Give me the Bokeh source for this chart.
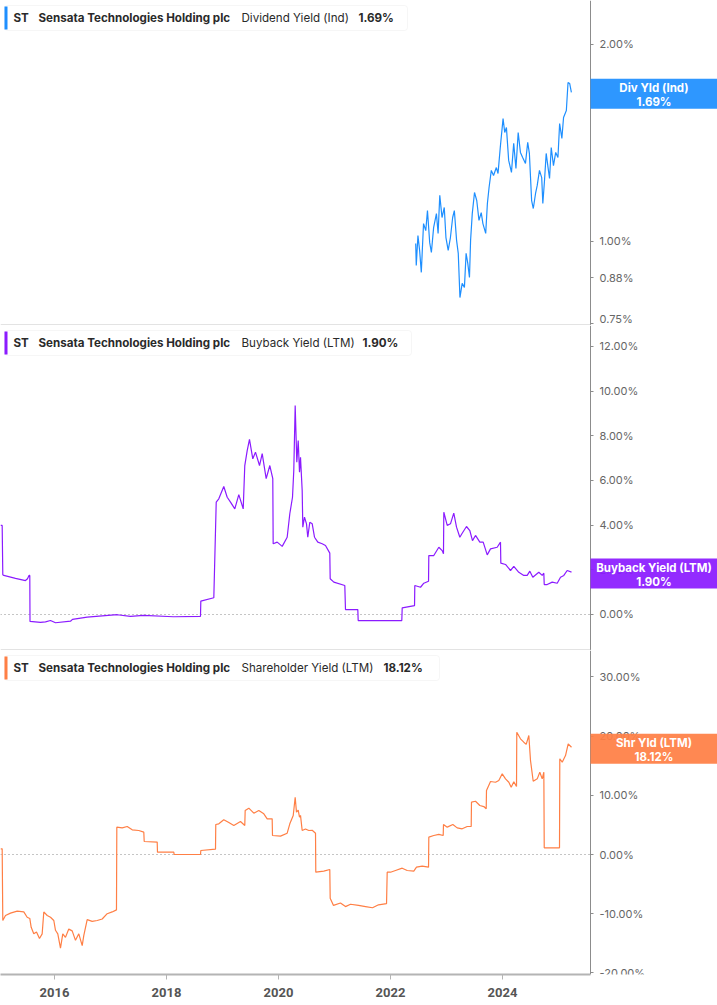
import numpy as np
from bokeh.plotting import figure
from bokeh.layouts import column
from bokeh.models import (Range1d, FixedTicker, PrintfTickFormatter,
                          BoxAnnotation, Label)
from bokeh.embed import file_html
from bokeh.resources import INLINE

# ---------------- data ----------------
company = "Sensata Technologies Holding plc"
ticker = "ST"

div_t = [2022.45, 2022.46, 2022.49, 2022.52, 2022.55, 2022.59, 2022.63, 2022.66, 2022.70, 2022.73,
         2022.77, 2022.82, 2022.85, 2022.88, 2022.92, 2022.96, 2022.99, 2023.03, 2023.07, 2023.11,
         2023.14, 2023.18, 2023.21, 2023.24, 2023.28, 2023.32, 2023.35, 2023.38, 2023.41, 2023.43,
         2023.46, 2023.50, 2023.54, 2023.58, 2023.62, 2023.65, 2023.70, 2023.73, 2023.76, 2023.80,
         2023.84, 2023.89, 2023.92, 2023.96, 2024.01, 2024.04, 2024.07, 2024.11, 2024.16, 2024.20,
         2024.24, 2024.28, 2024.32, 2024.36, 2024.41, 2024.45, 2024.48, 2024.52, 2024.55, 2024.59,
         2024.62, 2024.66, 2024.70, 2024.72, 2024.75, 2024.78, 2024.82, 2024.84, 2024.87, 2024.91,
         2024.95, 2024.99, 2025.02, 2025.06, 2025.09, 2025.14, 2025.17, 2025.20, 2025.23]
div_v = [0.993, 0.919, 1.021, 0.969, 0.897, 1.065, 1.039, 1.115, 0.996, 0.962,
         1.050, 1.103, 1.029, 1.176, 1.088, 1.127, 1.014, 0.969, 1.014, 1.088,
         1.115, 1.004, 0.959, 0.821, 0.863, 0.851, 0.959, 0.926, 0.881, 1.004,
         1.103, 1.188, 1.155, 1.077, 1.107, 1.065, 1.029, 1.143, 1.209, 1.284,
         1.261, 1.297, 1.270, 1.392, 1.541, 1.467, 1.493, 1.330, 1.275, 1.412,
         1.293, 1.467, 1.368, 1.344, 1.316, 1.417, 1.363, 1.155, 1.123, 1.184,
         1.218, 1.284, 1.252, 1.143, 1.239, 1.363, 1.284, 1.248, 1.392, 1.306,
         1.368, 1.344, 1.514, 1.437, 1.547, 1.585, 1.749, 1.743, 1.69]

bb_t = [2015.036, 2015.066, 2015.077, 2015.095, 2015.304, 2015.482, 2015.518, 2015.545, 2015.559, 2015.563,
        2015.750, 2015.839, 2015.929, 2016.018, 2016.286, 2016.321, 2016.584, 2017.120, 2017.357, 2017.589,
        2018.125, 2018.607, 2018.613, 2018.845, 2018.888, 2018.934, 2019.023, 2019.084, 2019.143, 2019.220,
        2019.291, 2019.370, 2019.398, 2019.441, 2019.482, 2019.541, 2019.589, 2019.661, 2019.709, 2019.780,
        2019.845, 2019.898, 2019.905, 2019.977, 2020.066, 2020.155, 2020.202, 2020.250, 2020.273, 2020.298,
        2020.316, 2020.327, 2020.352, 2020.375, 2020.393, 2020.423, 2020.434, 2020.464, 2020.500, 2020.523,
        2020.559, 2020.602, 2020.643, 2020.702, 2020.780, 2020.839, 2020.916, 2020.923, 2020.988, 2021.184,
        2021.196, 2021.416, 2021.423, 2022.202, 2022.209, 2022.429, 2022.434, 2022.536, 2022.595, 2022.679,
        2022.684, 2022.773, 2022.863, 2022.923, 2022.946, 2022.952, 2023.013, 2023.071, 2023.130, 2023.179,
        2023.238, 2023.280, 2023.357, 2023.416, 2023.464, 2023.518, 2023.595, 2023.655, 2023.727, 2023.786,
        2023.905, 2023.964, 2023.970, 2024.054, 2024.143, 2024.202, 2024.291, 2024.380, 2024.441, 2024.488,
        2024.541, 2024.648, 2024.709, 2024.738, 2024.745, 2024.798, 2024.888, 2024.977, 2025.036, 2025.095,
        2025.155, 2025.232]
bb_v = [3.99, 3.99, 1.78, 1.75, 1.62, 1.52, 1.60, 1.75, 1.75, -0.31,
        -0.35, -0.33, -0.27, -0.37, -0.30, -0.22, -0.12, -0.01, -0.08, -0.04,
        -0.10, -0.08, 0.60, 0.75, 5.03, 5.18, 5.73, 5.25, 5.03, 4.73,
        5.37, 4.73, 6.67, 7.34, 7.84, 6.97, 7.27, 6.67, 7.20, 6.08,
        6.67, 6.08, 3.17, 3.24, 3.05, 3.46, 4.51, 5.25, 6.45, 9.36,
        7.79, 6.82, 7.79, 6.37, 7.04, 5.55, 3.91, 4.36, 4.06, 3.46,
        4.13, 4.06, 3.46, 3.24, 3.17, 3.09, 2.75, 1.60, 1.45, 1.30,
        0.22, 0.22, -0.27, -0.27, 0.30, 0.40, 1.30, 1.22, 1.40, 1.49,
        2.64, 2.64, 3.01, 2.86, 2.72, 4.58, 3.99, 4.06, 4.54, 3.91,
        3.46, 3.64, 3.94, 3.76, 3.31, 3.54, 3.24, 3.24, 2.67, 2.94,
        3.01, 3.24, 2.30, 2.24, 1.97, 2.15, 1.89, 1.75, 1.75, 1.94,
        1.67, 1.89, 1.75, 1.85, 1.34, 1.34, 1.45, 1.40, 1.67, 1.75,
        1.97, 1.90]

sh_t = [2015.036, 2015.066, 2015.077, 2015.125, 2015.214, 2015.334, 2015.452, 2015.512, 2015.559, 2015.584,
        2015.630, 2015.679, 2015.732, 2015.780, 2015.809, 2015.870, 2015.929, 2015.988, 2016.018, 2016.059,
        2016.107, 2016.148, 2016.196, 2016.255, 2016.316, 2016.375, 2016.434, 2016.495, 2016.523, 2016.584,
        2016.673, 2016.763, 2016.852, 2016.941, 2017.030, 2017.107, 2017.113, 2017.209, 2017.298, 2017.388,
        2017.505, 2017.595, 2017.602, 2017.834, 2017.839, 2018.130, 2018.137, 2018.607, 2018.613, 2018.875,
        2018.880, 2018.934, 2019.023, 2019.113, 2019.202, 2019.321, 2019.398, 2019.405, 2019.470, 2019.559,
        2019.648, 2019.738, 2019.798, 2019.887, 2019.893, 2020.036, 2020.155, 2020.202, 2020.263, 2020.298,
        2020.321, 2020.352, 2020.375, 2020.393, 2020.423, 2020.482, 2020.541, 2020.602, 2020.661, 2020.666,
        2020.809, 2020.916, 2020.923, 2020.982, 2021.107, 2021.196, 2021.286, 2021.429, 2021.554, 2021.679,
        2021.786, 2021.929, 2021.941, 2022.000, 2022.089, 2022.209, 2022.298, 2022.416, 2022.464, 2022.566,
        2022.679, 2022.684, 2022.773, 2022.863, 2022.941, 2022.946, 2023.013, 2023.113, 2023.191, 2023.280,
        2023.370, 2023.441, 2023.446, 2023.518, 2023.595, 2023.666, 2023.709, 2023.714, 2023.786, 2023.875,
        2023.934, 2023.995, 2024.054, 2024.113, 2024.155, 2024.202, 2024.250, 2024.255, 2024.321, 2024.380,
        2024.423, 2024.470, 2024.500, 2024.548, 2024.620, 2024.666, 2024.709, 2024.738, 2024.745, 2025.018,
        2025.023, 2025.066, 2025.125, 2025.173, 2025.232]
sh_v = [0.96, 0.96, -11.15, -10.3, -9.9, -9.57, -9.7, -10.6, -10.8, -12.3,
        -13.4, -13.1, -14.2, -13.4, -9.7, -10.3, -10.6, -11.15, -12.8, -13.4,
        -15.8, -13.4, -14.0, -12.6, -12.9, -14.5, -13.4, -15.4, -13.7, -11.0,
        -11.3, -11.15, -10.9, -10.0, -9.7, -9.35, 4.62, 4.5, 4.73, 4.17,
        4.05, 3.77, 2.2, 2.1, 0.39, 0.39, 0.0, 0.0, 0.68, 0.9,
        5.07, 5.18, 5.86, 5.4, 4.9, 5.57, 4.9, 7.43, 7.83, 6.98,
        7.43, 6.87, 6.03, 6.03, 3.21, 3.1, 3.6, 5.18, 6.59, 9.68,
        7.15, 7.5, 6.3, 6.6, 4.05, 4.3, 4.05, 4.1, 3.6, -2.99,
        -2.8, -2.53, -7.4, -8.6, -8.2, -8.8, -8.4, -8.6, -8.8, -9.0,
        -8.5, -8.3, -2.99, -2.99, -2.7, -2.31, -2.7, -2.8, -2.14, -1.97,
        -2.14, 2.93, 3.21, 3.4, 3.21, 5.07, 4.62, 5.07, 4.5, 4.34,
        4.73, 4.73, 8.84, 9.0, 8.28, 8.1, 7.72, 10.81, 12.33, 12.2,
        12.5, 13.63, 12.78, 12.2, 11.37, 12.3, 11.5, 20.66, 19.54, 18.97,
        18.6, 20.1, 15.88, 12.38, 12.78, 13.9, 12.78, 13.9, 1.13, 1.13,
        16.17, 15.6, 16.72, 18.7, 18.12]

x_ticks = [2016, 2018, 2020, 2022, 2024]
div_ticks = [0.75, 0.88, 1.0, 2.0]
bb_ticks = [0, 2, 4, 6, 8, 10, 12]
sh_ticks = [-20, -10, 0, 10, 20, 30]

panels = [
    dict(metric="Dividend Yield (Ind)", tag="Div Yld (Ind)", last=1.69, color="#1E8FFF",
         t=div_t, v=div_v, ticks=div_ticks, yr=(0.7442, 2.334), log=True,
         height=325, val_x=358, box_w=403),
    dict(metric="Buyback Yield (LTM)", tag="Buyback Yield (LTM)", last=1.90, color="#8B1BFF",
         t=bb_t, v=bb_v, ticks=bb_ticks, yr=(-1.612, 12.94), log=False,
         height=325, val_x=362, box_w=407),
    dict(metric="Shareholder Yield (LTM)", tag="Shr Yld (LTM)", last=18.12, color="#FF7F45",
         t=sh_t, v=sh_v, ticks=sh_ticks, yr=(-20.27, 34.46), log=False,
         height=355, val_x=383, box_w=435),
]

# ---------------- layout ----------------
W = 717
AX_PX = 590          # pixel position of the value axis
XAXIS_H = 31
X0, X1 = 2015.036, 2027.839
XAX = 2025.571       # x value where the value axis sits
xr = Range1d(X0, X1)

FONT = "Inter"
figs = []
for i, cfg in enumerate(panels):
    last_panel = i == len(panels) - 1
    fh = cfg["height"] - (XAXIS_H if last_panel else 0)
    yr = Range1d(*cfg["yr"])
    p = figure(width=W, height=cfg["height"], x_range=xr, y_range=yr,
               y_axis_type="log" if cfg["log"] else "linear",
               y_axis_location="right",
               x_axis_location="below" if last_panel else None,
               output_backend="svg", toolbar_location=None,
               min_border_left=0, min_border_right=0, min_border_top=0,
               min_border_bottom=XAXIS_H if last_panel else 0)
    p.outline_line_color = None
    p.grid.visible = False
    p.background_fill_color = "white"
    p.border_fill_color = "white"

    ya = p.yaxis[0]
    ya.fixed_location = XAX
    ya.ticker = FixedTicker(ticks=cfg["ticks"])
    ya.formatter = PrintfTickFormatter(format="%.2f%%")
    ya.axis_line_color = "#8c8c8c"
    ya.axis_line_width = 1
    ya.major_tick_line_color = "#8c8c8c"
    ya.major_tick_out = 3
    ya.major_tick_in = 0
    ya.minor_tick_line_color = None
    ya.major_label_text_font = FONT
    ya.major_label_text_font_size = "11px"
    ya.major_label_text_color = "#666666"
    ya.major_label_standoff = 6

    if last_panel:
        xa = p.xaxis[0]
        xa.bounds = (X0, XAX)
        xa.ticker = FixedTicker(ticks=x_ticks)
        xa.formatter = PrintfTickFormatter(format="%d")
        xa.axis_line_color = "#b4b4b4"
        xa.axis_line_width = 2
        xa.major_tick_line_color = "#b4b4b4"
        xa.major_tick_out = 5
        xa.major_tick_in = 0
        xa.minor_tick_line_color = None
        xa.major_label_text_font = "Roboto"
        xa.major_label_text_font_style = "bold"
        xa.major_label_text_font_size = "13px"
        xa.major_label_text_color = "#555555"
        xa.major_label_standoff = 8
    else:
        # separator line at the panel bottom
        p.add_layout(BoxAnnotation(left=0, right=AX_PX, bottom=0, top=1,
                                   left_units="screen", right_units="screen",
                                   bottom_units="screen", top_units="screen",
                                   fill_color="#c8c8c8", fill_alpha=1, line_color=None))

    if not cfg["log"]:
        p.segment(x0=[X0], x1=[XAX], y0=[0], y1=[0], line_color="#8a8a8a",
                  line_width=1, line_dash="1 3")

    p.line(cfg["t"], cfg["v"], line_color=cfg["color"], line_width=1.2)

    # header box
    top = fh - 5
    bot = top - 25
    p.add_layout(BoxAnnotation(left=4, right=4 + cfg["box_w"], bottom=bot, top=top,
                               left_units="screen", right_units="screen",
                               bottom_units="screen", top_units="screen",
                               fill_color="white", fill_alpha=1, line_color="#e2e2e2",
                               line_width=1, border_radius=3))
    p.add_layout(BoxAnnotation(left=4, right=7, bottom=bot + 1, top=top - 1,
                               left_units="screen", right_units="screen",
                               bottom_units="screen", top_units="screen",
                               fill_color=cfg["color"], fill_alpha=1, line_color=None))
    cy = (top + bot) / 2
    for x, txt, style in [(13, ticker, "bold"), (38, company, "bold"),
                          (241, cfg["metric"], "normal"),
                          (cfg["val_x"], f"{cfg['last']:.2f}%", "bold")]:
        p.add_layout(Label(x=x, y=cy, x_units="screen", y_units="screen", text=txt,
                           text_font=FONT, text_font_size="11.6px", text_font_style=style,
                           text_color="#2a2a2a", text_baseline="middle", text_align="left"))

    # value tag on the right axis
    y0, y1 = yr.start, yr.end
    if cfg["log"]:
        ys = (np.log(cfg["last"]) - np.log(y0)) / (np.log(y1) - np.log(y0)) * fh
    else:
        ys = (cfg["last"] - y0) / (y1 - y0) * fh
    ys -= 1.5
    p.add_layout(BoxAnnotation(left=AX_PX, right=W, bottom=ys - 15, top=ys + 15,
                               left_units="screen", right_units="screen",
                               bottom_units="screen", top_units="screen",
                               fill_color=cfg["color"], fill_alpha=0.93, line_color=None))
    p.add_layout(Label(x=(AX_PX + W) / 2, y=ys - 1, x_units="screen", y_units="screen",
                       text=f"{cfg['tag']}\n{cfg['last']:.2f}%",
                       text_font=FONT, text_font_size="11.5px", text_font_style="bold",
                       text_color="white", text_align="center", text_baseline="middle",
                       text_line_height=1.0))
    figs.append(p)

layout = column(*figs, spacing=0)
open("out.html", "w").write(file_html(layout, INLINE))
